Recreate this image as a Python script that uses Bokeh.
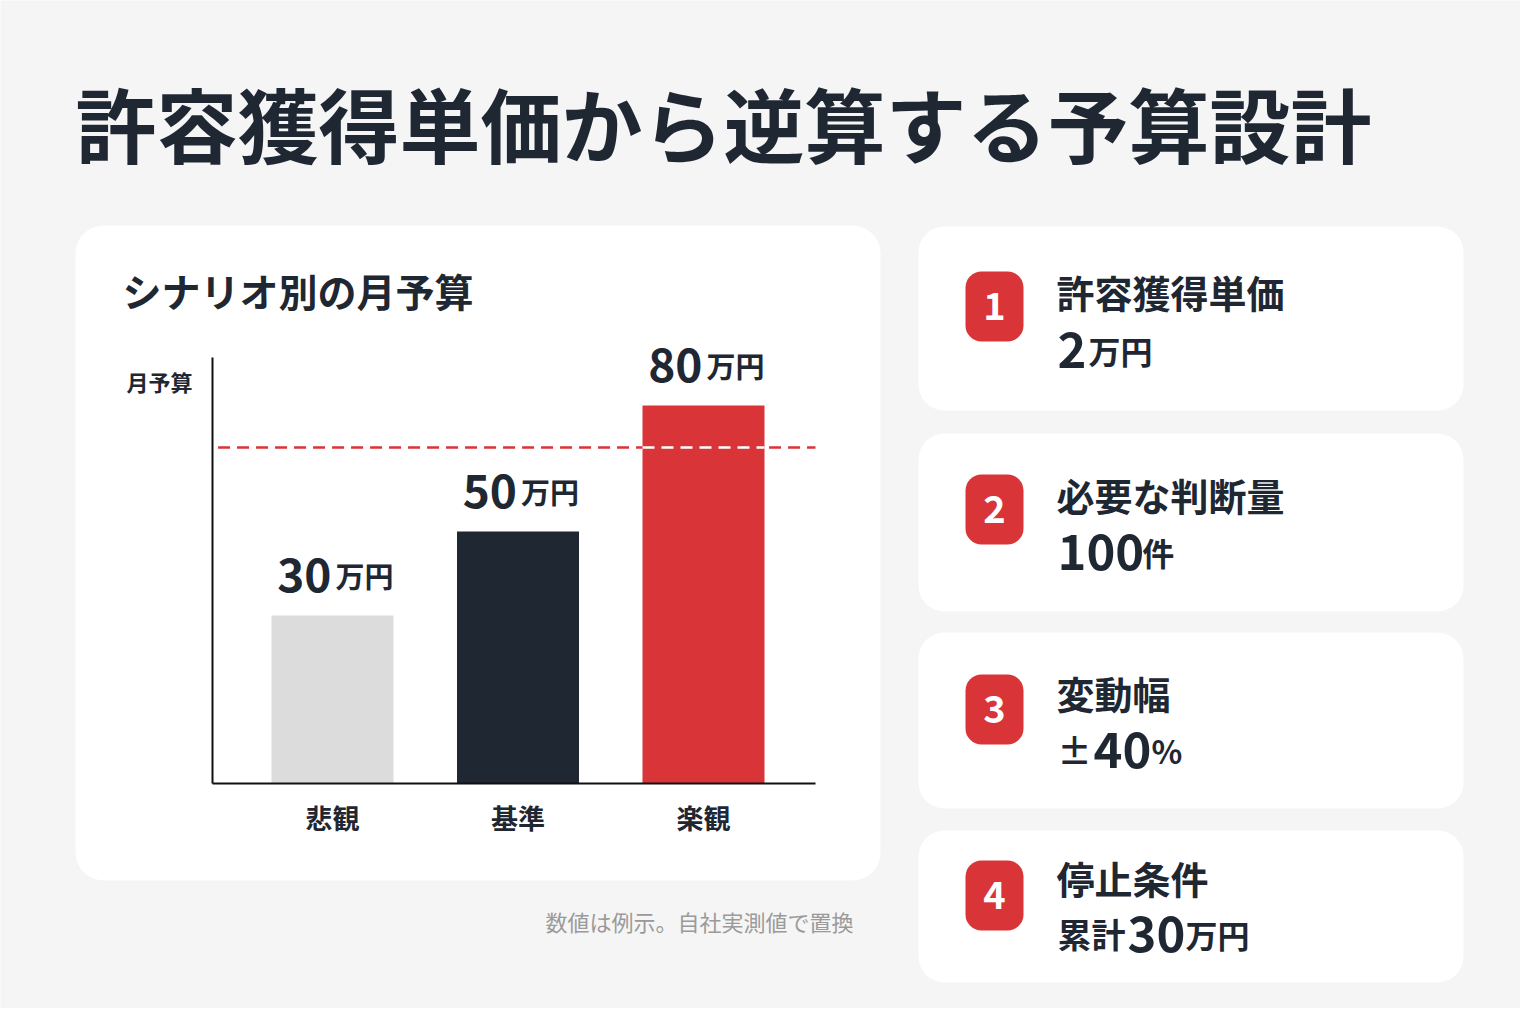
from bokeh.plotting import figure
from bokeh.models import ColumnDataSource, Range1d
from bokeh.core.properties import value
from bokeh.embed import file_html
from bokeh.resources import INLINE

# --- data
categories = ["悲観", "基準", "楽観"]
budgets = [30, 50, 80]            # 月予算（万円）
budget_unit = "万円"
threshold = 70                    # 上振れライン（基準 +40%）
bar_colors = ["#dcdcdc", "#1e2732", "#d93438"]

step_numbers = ["1", "2", "3", "4"]
step_titles = ["許容獲得単価", "必要な判断量", "変動幅", "停止条件"]
step_prefix = ["", "", "±", "累計"]
step_values = ["2", "100", "40", "30"]
step_suffix = ["万円", "件", "%", "万円"]

title = "許容獲得単価から逆算する予算設計"
card_title = "シナリオ別の月予算"
y_label = "月予算"
note = "数値は例示。自社実測値で置換"

# --- layout (pixels measured on the screenshot, y downwards)
W, H = 1520, 1008
FONT = value("Noto Sans CJK JP")
INK = "#1e2732"
RED = "#d93438"
BG = "#f5f5f5"
BASELINE_FIX = 18   # "alphabetic" text sits this much lower than asked


def fx(x):
    return x


def fy(y):
    return H - y


def est_width(s, size):
    # rough advance widths for Noto Sans CJK JP bold
    w = 0.0
    for ch in s:
        if ch.isdigit():
            w += 0.55 * size
        elif ch == "%":
            w += 0.85 * size
        else:
            w += 1.0 * size
    return w


# bar chart placement: ranges chosen so the chart sits in the left card
X_PX = 185.5          # px per category step
X0_PX = fx(332)       # centre of first bar
Y_PX = 4.2            # px per 万円
Y_FLOOR = -10         # value at the baseline
BASE_PX = fy(783)
cat_range = Range1d(-X0_PX / X_PX, (W - X0_PX) / X_PX)
val_range = Range1d(Y_FLOOR - BASE_PX / Y_PX, Y_FLOOR + (H - BASE_PX) / Y_PX)
AX_X0 = (fx(212) - X0_PX) / X_PX
AX_X1 = (fx(815) - X0_PX) / X_PX
AX_TOP = Y_FLOOR + (fy(357) - BASE_PX) / Y_PX
BAR_W = 122 / X_PX

p = figure(width=W, height=H, x_range=Range1d(0, W), y_range=Range1d(0, H),
           min_border=0, toolbar_location=None, output_backend="svg",
           x_axis_location=None, y_axis_location=None,
           background_fill_color=BG, border_fill_color=BG, outline_line_color=None)
p.grid.visible = False
p.extra_x_ranges = {"cat": cat_range}
p.extra_y_ranges = {"val": val_range}

# --- title
p.text(x=[fx(75)], y=[fy(121)], text=[title], text_font=FONT, text_font_style="bold",
       text_font_size="81px", text_color=INK, text_baseline="middle", text_align="left")

# --- cards
p.quad(left=[fx(75)], right=[fx(880)], top=[fy(225)], bottom=[fy(880)],
       fill_color="white", line_color=None, border_radius=28)
card_tops = [226, 433, 632, 830]
card_bottoms = [410, 611, 808, 982]
p.quad(left=fx(918), right=fx(1463), top=[fy(t) for t in card_tops],
       bottom=[fy(b) for b in card_bottoms],
       fill_color="white", line_color=None, border_radius=26)

# --- left card texts
p.text(x=[fx(122)], y=[fy(289)], text=[card_title], text_font=FONT, text_font_style="bold",
       text_font_size="39px", text_color=INK, text_baseline="middle", text_align="left")
p.text(x=[fx(192)], y=[fy(380)], text=[y_label], text_font=FONT, text_font_style="bold",
       text_font_size="22px", text_color=INK, text_baseline="middle", text_align="right")
p.text(x=[fx(853)], y=[fy(920)], text=[note], text_font=FONT,
       text_font_size="22px", text_color="#9a9a9a", text_baseline="middle", text_align="right")

# --- bars
src = ColumnDataSource(dict(
    x=list(range(len(categories))), top=budgets, color=bar_colors, cat=categories,
    num=[str(b) for b in budgets], unit=[budget_unit] * len(budgets),
))
p.vbar(x="x", top="top", bottom=Y_FLOOR, width=BAR_W, fill_color="color", line_color=None,
       source=src, x_range_name="cat", y_range_name="val")

# threshold line (white where it crosses the red bar)
p.segment(x0=[AX_X0 + 0.03], y0=[threshold], x1=[AX_X1], y1=[threshold],
          line_color=RED, line_width=2.5, line_dash="12 7",
          x_range_name="cat", y_range_name="val")
p.segment(x0=[2 - BAR_W / 2], y0=[threshold], x1=[2 + BAR_W / 2], y1=[threshold],
          line_color="white", line_width=2.5, line_dash="12 7",
          x_range_name="cat", y_range_name="val")

# axis lines
p.segment(x0=[AX_X0, AX_X0], y0=[Y_FLOOR, Y_FLOOR], x1=[AX_X0, AX_X1], y1=[AX_TOP, Y_FLOOR],
          line_color="#111111", line_width=2, x_range_name="cat", y_range_name="val")

# value labels
p.text(x="x", y="top", text="num", source=src, x_offset=-1, y_offset=-23 - BASELINE_FIX,
       text_font=FONT, text_font_style="bold", text_font_size="46px", text_color=INK,
       text_align="right", text_baseline="alphabetic", x_range_name="cat", y_range_name="val")
p.text(x="x", y="top", text="unit", source=src, x_offset=3, y_offset=-23 - BASELINE_FIX,
       text_font=FONT, text_font_style="bold", text_font_size="29px", text_color=INK,
       text_align="left", text_baseline="alphabetic", x_range_name="cat", y_range_name="val")

# category labels
p.text(x="x", y=Y_FLOOR, text="cat", source=src, y_offset=34,
       text_font=FONT, text_font_style="bold", text_font_size="27px", text_color=INK,
       text_align="center", text_baseline="middle", x_range_name="cat", y_range_name="val")

# --- right cards
badge_mid = [306, 509, 709, 895]
p.quad(left=fx(965), right=fx(1023), top=[fy(m - 35) for m in badge_mid],
       bottom=[fy(m + 35) for m in badge_mid], fill_color=RED, line_color=None,
       border_radius=16)
p.text(x=fx(994), y=[fy(m) + 1 for m in badge_mid], text=step_numbers, text_font=FONT,
       text_font_style="bold", text_font_size="38px", text_color="white",
       text_align="center", text_baseline="middle")

title_mid = [291, 494, 692, 877]
p.text(x=fx(1056), y=[fy(m) for m in title_mid], text=step_titles, text_font=FONT,
       text_font_style="bold", text_font_size="38px", text_color=INK,
       text_align="left", text_baseline="middle")

value_base = [367, 569, 767, 951]
NUM_SIZE, UNIT_SIZE, PRE_SIZE = 49, 32, 34
pre_x, num_x, suf_x = [], [], []
for pre, num in zip(step_prefix, step_values):
    x = fx(1057)
    pre_x.append(x)
    if pre:
        x += est_width(pre, PRE_SIZE) + 2
    num_x.append(x)
    x += est_width(num, NUM_SIZE) + 4
    suf_x.append(x)
ys = [fy(b) + BASELINE_FIX for b in value_base]
for xs, txt, size in [(pre_x, step_prefix, PRE_SIZE), (num_x, step_values, NUM_SIZE),
                      (suf_x, step_suffix, UNIT_SIZE)]:
    p.text(x=xs, y=ys, text=txt, text_font=FONT, text_font_style="bold",
           text_font_size=f"{size}px", text_color=INK,
           text_align="left", text_baseline="alphabetic")

open("out.html", "w").write(file_html(p, INLINE))
